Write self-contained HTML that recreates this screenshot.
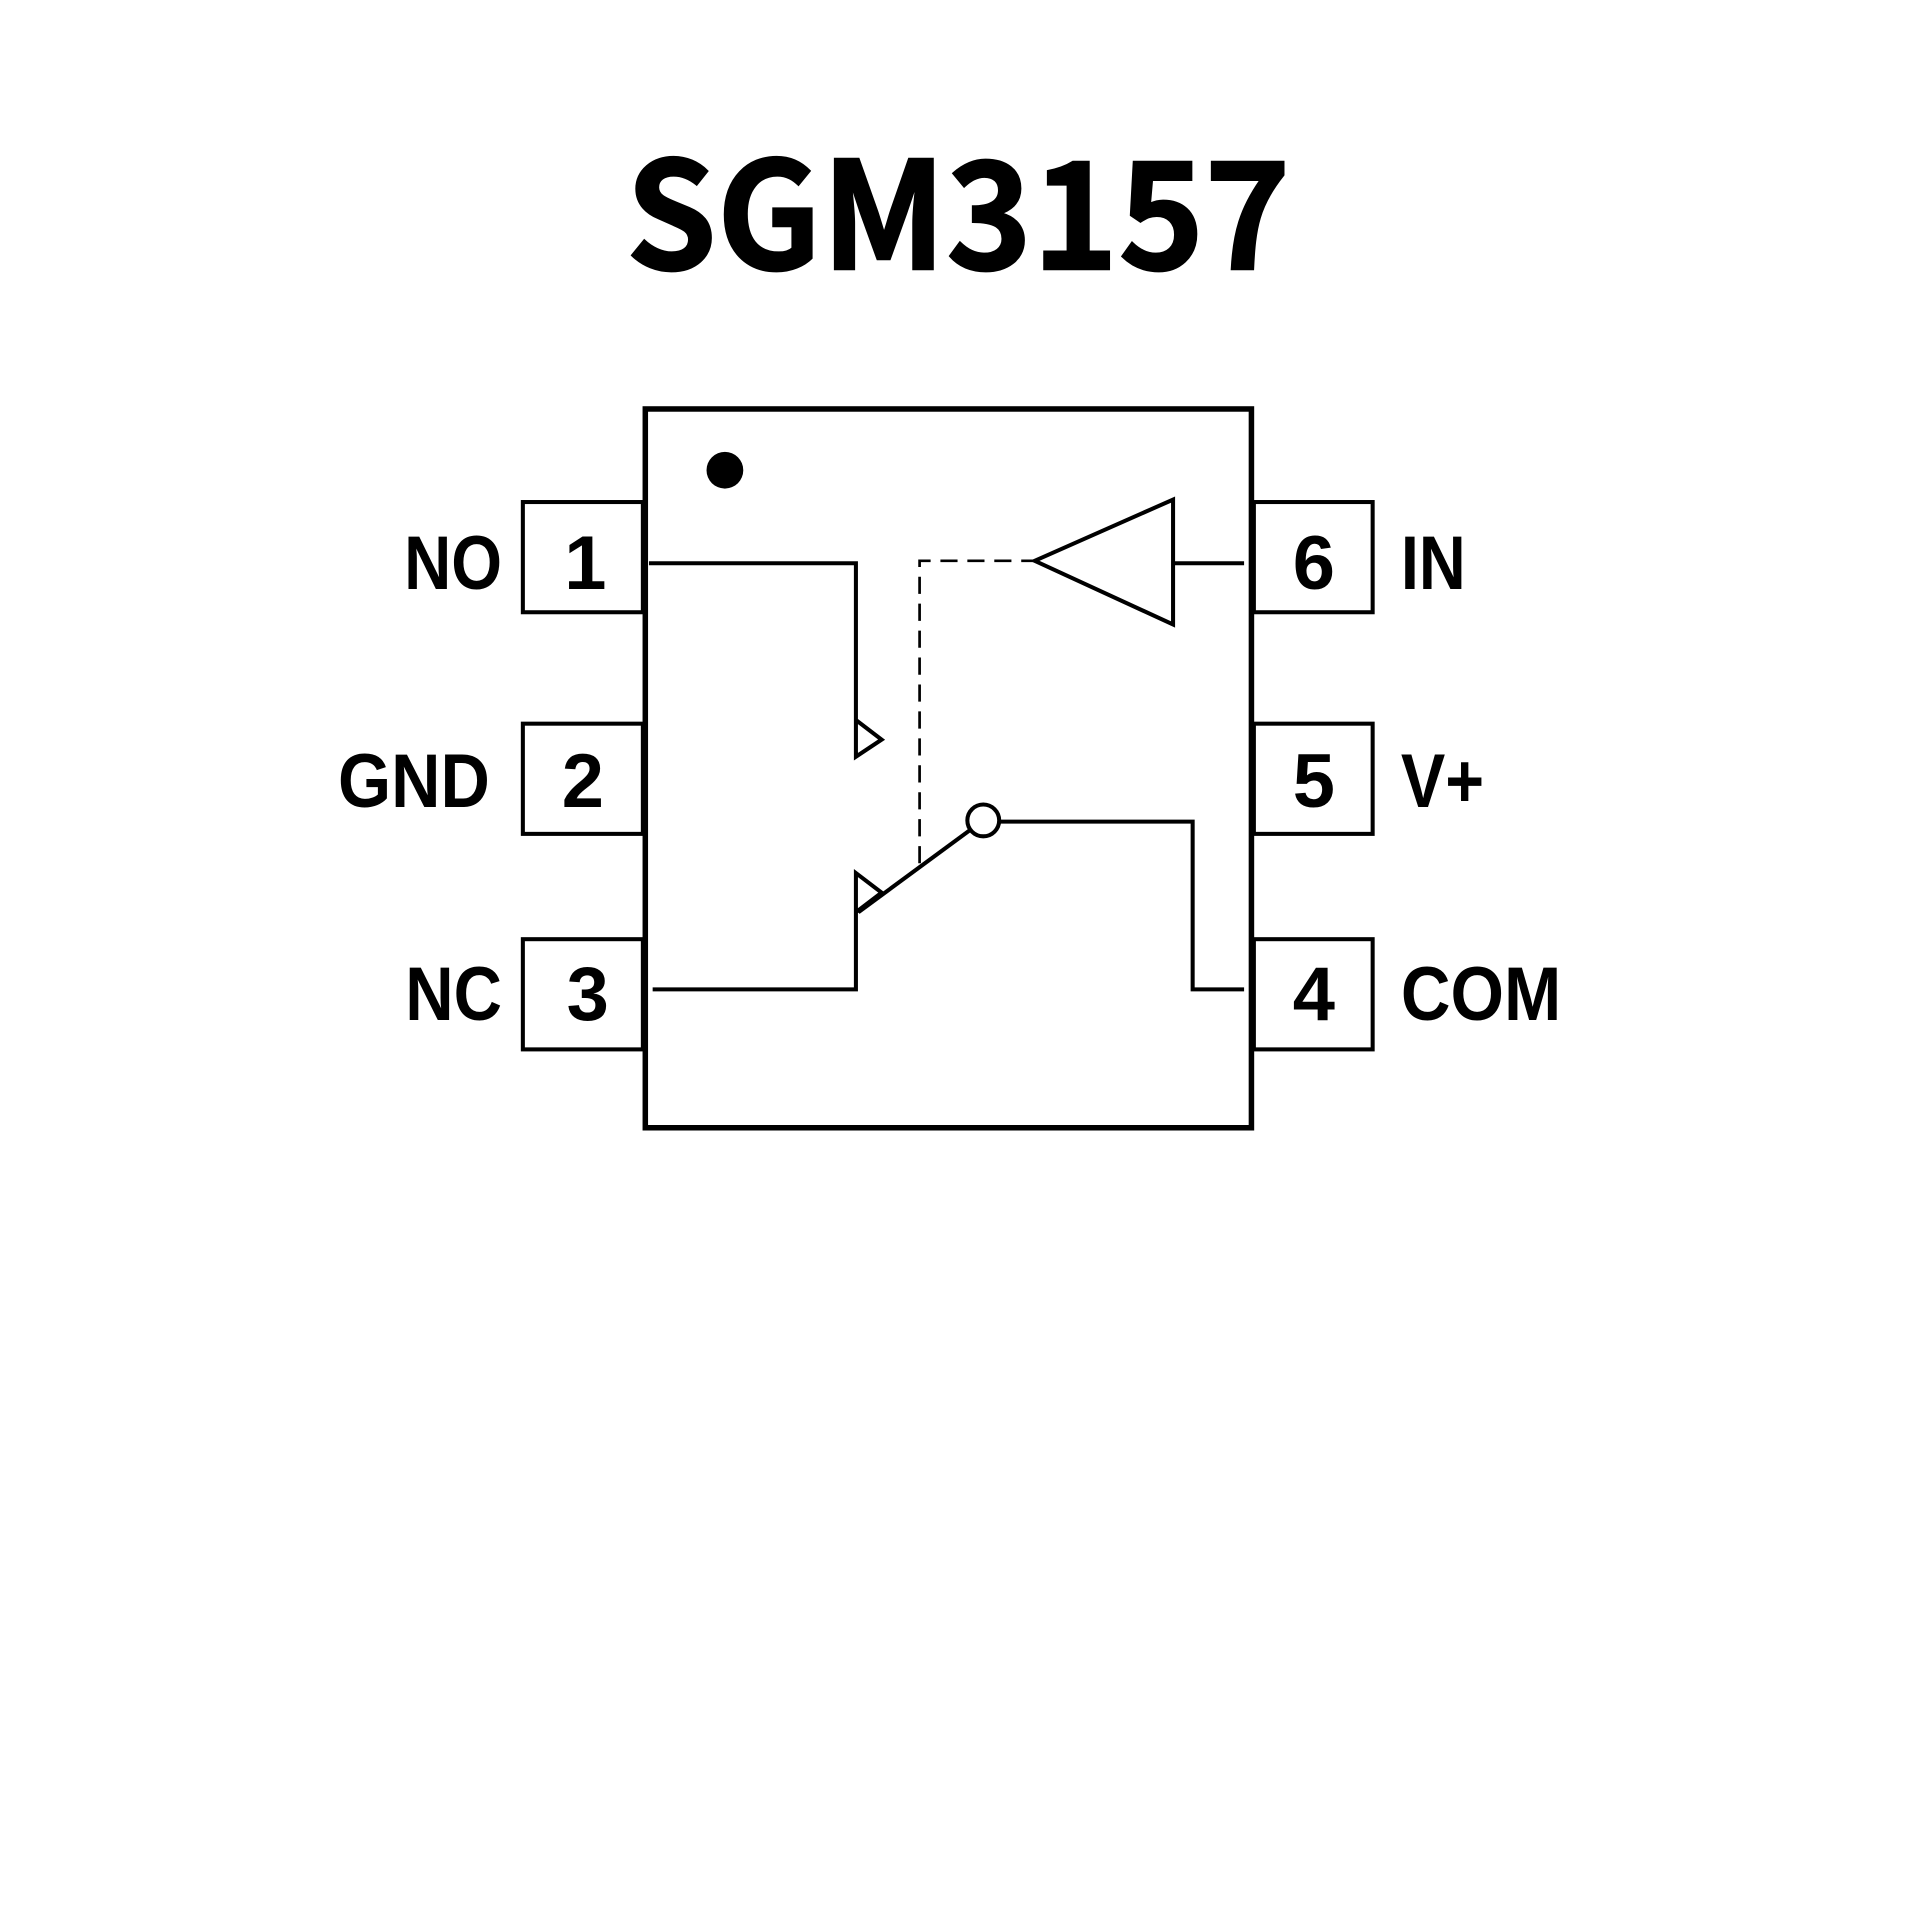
<!DOCTYPE html>
<html><head><style>html,body{margin:0;padding:0;background:#fff;}svg{display:block}</style></head>
<body>
<svg width="1920" height="1920" viewBox="0 0 1568 1568" xmlns="http://www.w3.org/2000/svg">
<rect width="1568" height="1568" fill="#fff"/>
<text x="511" y="220" font-family="'Noto Sans CJK SC','Liberation Sans',sans-serif" font-weight="700" font-size="122" textLength="543" lengthAdjust="spacingAndGlyphs" stroke="#000" stroke-width="1.5">SGM3157</text>
<g fill="none" stroke="#000">
<rect x="527" y="334" width="495" height="587" stroke-width="4.5"/>
<g stroke-width="3.3">
<rect x="427" y="410" width="98" height="90"/>
<rect x="427" y="591" width="98" height="90"/>
<rect x="427" y="767" width="98" height="90"/>
<rect x="1024" y="410" width="97" height="90"/>
<rect x="1024" y="591" width="97" height="90"/>
<rect x="1024" y="767" width="97" height="90"/>
<polyline points="530,460 699,460 699,618 720,604 699,588"/>
<polyline points="533,808 699,808 699,713 720,729 699,745"/>
<line x1="701" y1="745" x2="792" y2="678"/>
<circle cx="803" cy="670" r="13"/>
<polyline points="816,671 974,671 974,808 1016,808"/>
<polygon points="845,458 958,408 958,510"/>
<line x1="958" y1="460" x2="1016" y2="460"/>
<polyline points="751,705 751,458 845,458" stroke-width="2.2" stroke-dasharray="14,8"/>
</g>
</g>
<circle cx="592" cy="384" r="15" fill="#000"/>
<g font-family="'Liberation Sans',sans-serif" font-weight="700" font-size="62" fill="#000">
<text x="330" y="481" textLength="80" lengthAdjust="spacingAndGlyphs">NO</text>
<text x="276" y="659" textLength="124" lengthAdjust="spacingAndGlyphs">GND</text>
<text x="331" y="833" textLength="79" lengthAdjust="spacingAndGlyphs">NC</text>
<text x="478" y="481" text-anchor="middle">1</text>
<text x="476" y="659" text-anchor="middle">2</text>
<text x="480" y="833" text-anchor="middle">3</text>
<text x="1073" y="481" text-anchor="middle">6</text>
<text x="1073" y="659" text-anchor="middle">5</text>
<text x="1073" y="833" text-anchor="middle">4</text>
<text x="1144" y="481" textLength="53" lengthAdjust="spacingAndGlyphs">IN</text>
<text x="1144" y="659" textLength="68" lengthAdjust="spacingAndGlyphs">V+</text>
<text x="1144" y="833" textLength="131" lengthAdjust="spacingAndGlyphs">COM</text>
</g>
</svg>
</body></html>
